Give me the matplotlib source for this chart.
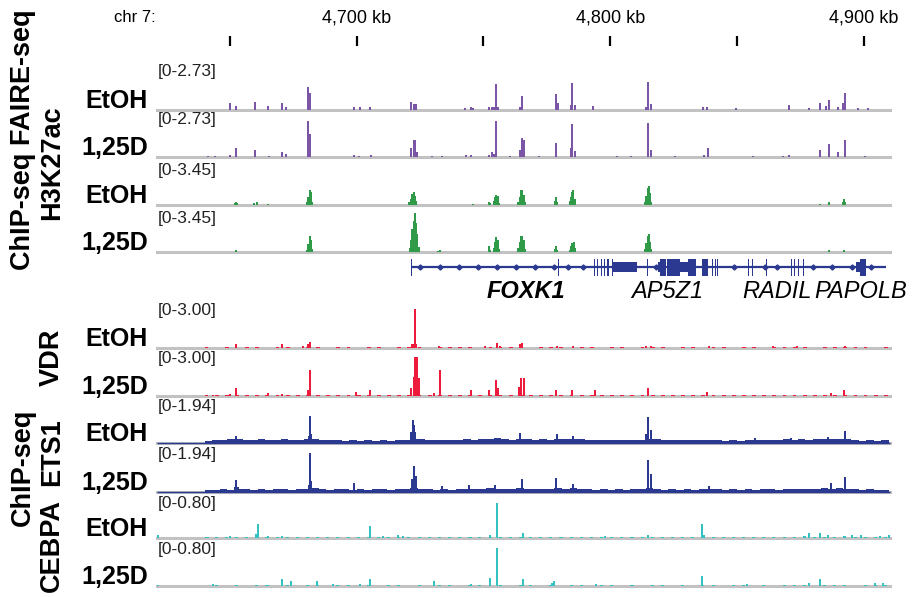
import matplotlib
matplotlib.use("Agg")
import matplotlib.pyplot as plt
import numpy as np

plt.rcParams['font.family'] = ['Liberation Sans', 'DejaVu Sans']

# ---- data (positions in kb on chr7, signal values) ----
ruler_ticks = [4650, 4700, 4750, 4800, 4850, 4900]
ruler_labels = {4700: "4,700 kb", 4800: "4,800 kb", 4900: "4,900 kb"}

faire_etoh = [(4650.0, 0.44), (4652.5, 0.25), (4660.0, 0.49), (4665.0, 0.25), (4670.7, 0.44),
              (4672.1, 0.19), (4680.7, 1.34), (4681.7, 1.01), (4698.9, 0.16), (4701.2, 0.16),
              (4705.1, 0.19), (4721.6, 0.49), (4722.4, 0.33), (4723.3, 0.33), (4742.7, 0.11),
              (4745.0, 0.16), (4746.0, 0.11), (4752.1, 0.16), (4753.3, 0.16), (4754.2, 0.19),
              (4755.0, 1.53), (4755.8, 0.19), (4764.6, 0.19), (4765.4, 0.82), (4778.6, 0.93),
              (4779.6, 0.44), (4784.6, 0.30), (4785.1, 1.58), (4786.3, 0.30), (4793.4, 0.25),
              (4814.1, 0.19), (4815.1, 1.69), (4816.1, 0.35), (4836.6, 0.19), (4838.1, 0.19),
              (4849.5, 0.14), (4870.4, 0.27), (4878.5, 0.14), (4882.9, 0.44), (4885.2, 0.25),
              (4886.5, 0.57), (4890.0, 0.19), (4891.7, 0.41), (4892.5, 0.98), (4897.7, 0.14),
              (4901.9, 0.14)]

faire_125d = [(4641.3, 0.05), (4644.2, 0.05), (4650.0, 0.14), (4652.3, 0.55), (4660.0, 0.41),
              (4665.3, 0.08), (4670.7, 0.30), (4672.1, 0.19), (4680.7, 2.16), (4681.7, 1.37),
              (4698.9, 0.11), (4700.9, 0.08), (4705.7, 0.11), (4721.6, 0.55), (4722.4, 1.01),
              (4723.1, 1.01), (4723.9, 0.30), (4729.7, 0.05), (4733.5, 0.05), (4743.1, 0.14),
              (4745.0, 0.14), (4752.1, 0.14), (4753.3, 0.30), (4754.2, 0.19), (4755.0, 2.21),
              (4760.4, 0.05), (4764.6, 0.41), (4765.4, 1.17), (4766.1, 1.01), (4772.0, 0.05),
              (4778.6, 0.85), (4784.6, 0.57), (4785.1, 1.99), (4786.3, 0.35), (4802.6, 0.05),
              (4808.4, 0.05), (4815.1, 2.07), (4816.1, 0.41), (4825.7, 0.05), (4837.2, 0.11),
              (4838.5, 0.52), (4856.4, 0.05), (4868.1, 0.05), (4870.4, 0.14), (4882.9, 0.41),
              (4886.5, 0.76), (4890.0, 0.30), (4892.5, 1.06), (4900.5, 0.05)]

h3k27ac_etoh = [(4639.4, 0.03), (4651.8, 0.14), (4652.3, 0.24), (4652.8, 0.14), (4659.6, 0.14),
                (4660.5, 0.21), (4665.0, 0.07),
                (4680.3, 0.21), (4680.9, 0.62), (4681.5, 1.24), (4682.0, 1.04), (4682.5, 0.28),
                (4720.8, 0.21), (4721.4, 0.52), (4722.0, 0.90), (4722.4, 1.04), (4722.9, 0.76),
                (4723.4, 0.35), (4746.0, 0.10), (4752.1, 0.24), (4752.7, 0.14),
                (4754.0, 0.35), (4754.6, 0.69), (4755.1, 0.83), (4755.6, 0.76), (4756.1, 0.17),
                (4763.8, 0.28), (4764.3, 0.69), (4764.8, 1.21), (4765.3, 1.24), (4765.8, 0.86),
                (4766.3, 0.21), (4778.2, 0.35), (4778.7, 0.66), (4779.2, 0.28),
                (4784.0, 0.35), (4784.5, 0.69), (4785.0, 1.04), (4785.5, 1.24), (4786.0, 0.52),
                (4813.8, 0.28), (4814.3, 0.76), (4814.8, 1.38), (4815.2, 1.55), (4815.7, 0.97),
                (4816.2, 0.28), (4882.9, 0.07), (4886.3, 0.24), (4891.8, 0.28), (4892.3, 0.48),
                (4892.8, 0.28)]

h3k27ac_125d = [(4652.3, 0.14),
                (4680.3, 0.21), (4680.9, 0.69), (4681.5, 1.35), (4682.0, 1.04), (4682.5, 0.28),
                (4720.9, 0.35), (4721.4, 1.04), (4721.9, 1.90), (4722.4, 2.59), (4722.9, 3.24),
                (4723.4, 2.42), (4723.9, 1.55), (4724.4, 0.41), (4732.0, 0.07), (4732.9, 0.14),
                (4752.1, 0.48), (4752.6, 0.17),
                (4754.0, 0.35), (4754.6, 0.86), (4755.1, 1.24), (4755.6, 1.04), (4756.1, 0.28),
                (4763.8, 0.35), (4764.3, 0.86), (4764.8, 1.31), (4765.3, 1.35), (4765.8, 1.04),
                (4766.3, 0.28), (4778.2, 0.28), (4778.7, 0.48), (4779.2, 0.17),
                (4784.0, 0.21), (4784.6, 0.48), (4785.1, 0.76), (4785.6, 0.86), (4786.1, 0.35),
                (4813.8, 0.28), (4814.3, 0.76), (4814.8, 1.31), (4815.2, 1.52), (4815.7, 0.86),
                (4816.2, 0.28), (4886.3, 0.14), (4892.3, 0.14)]

vdr_etoh = [(4652.5, 0.24), (4660.2, 0.09), (4670.7, 0.27), (4678.8, 0.12), (4680.7, 0.24),
            (4681.7, 0.39), (4722.0, 0.24), (4722.5, 0.30), (4723.0, 2.61), (4723.5, 0.30),
            (4732.5, 0.12), (4750.8, 0.15), (4755.2, 0.36), (4756.5, 0.12), (4764.6, 0.24),
            (4765.4, 0.36), (4779.2, 0.15), (4785.3, 0.15), (4814.1, 0.12), (4816.1, 0.15),
            (4839.1, 0.12), (4864.1, 0.15), (4873.7, 0.12), (4892.5, 0.12)]

vdr_125d = [(4643.3, 0.09), (4650.0, 0.12), (4652.5, 0.51), (4665.0, 0.18), (4670.7, 0.15),
            (4680.7, 0.42), (4681.7, 1.71), (4699.9, 0.27), (4705.3, 0.42), (4721.6, 0.51),
            (4722.4, 1.26), (4723.0, 2.58), (4723.7, 2.58), (4724.5, 1.20), (4730.6, 0.18),
            (4732.7, 1.71), (4745.0, 0.42), (4752.3, 0.42), (4755.0, 1.05), (4755.8, 0.51),
            (4764.2, 0.63), (4765.0, 1.23), (4765.8, 1.23), (4778.6, 0.42), (4784.9, 0.42),
            (4794.2, 0.42), (4815.1, 0.51), (4838.1, 0.24), (4887.1, 0.18), (4892.3, 0.42)]

ets1_etoh = [(4652.5, 0.31), (4681.0, 0.29), (4681.5, 1.20), (4682.0, 0.39), (4721.4, 0.49),
             (4722.2, 1.01), (4722.7, 0.78), (4723.1, 0.49), (4764.6, 0.43), (4779.2, 0.39),
             (4785.3, 0.31), (4814.3, 0.39), (4815.1, 1.13), (4816.1, 0.58), (4857.3, 0.23),
             (4871.4, 0.23), (4886.1, 0.27), (4892.5, 0.52)]

ets1_125d = [(4652.0, 0.23), (4652.5, 0.52), (4653.1, 0.23), (4681.0, 0.29), (4681.5, 1.67),
             (4682.0, 0.49), (4698.9, 0.39), (4721.8, 0.58), (4722.6, 1.14), (4723.3, 0.68),
             (4733.5, 0.27), (4744.1, 0.29), (4754.6, 0.29), (4765.2, 0.58), (4778.8, 0.62),
             (4785.3, 0.33), (4815.1, 1.36), (4816.1, 0.78), (4839.1, 0.25), (4887.1, 0.39),
             (4892.5, 0.66)]

cebpa_etoh = [(4621.6, 0.06), (4641.3, 0.02), (4650.0, 0.03), (4660.2, 0.08), (4660.9, 0.27),
              (4665.0, 0.04), (4670.7, 0.03), (4705.1, 0.23), (4710.5, 0.04), (4716.2, 0.05),
              (4718.1, 0.03), (4745.0, 0.02), (4752.7, 0.06), (4755.2, 0.66), (4765.6, 0.10),
              (4797.8, 0.04), (4815.1, 0.05), (4836.4, 0.26), (4837.2, 0.05), (4878.5, 0.10),
              (4882.9, 0.10), (4886.1, 0.06), (4895.4, 0.06), (4899.0, 0.06), (4906.3, 0.04),
              (4910.0, 0.06)]

cebpa_125d = [(4621.6, 0.02), (4643.3, 0.03), (4670.7, 0.12), (4674.0, 0.09), (4684.5, 0.09),
              (4690.7, 0.04), (4701.4, 0.04), (4705.1, 0.12), (4730.6, 0.09), (4745.0, 0.04),
              (4752.7, 0.14), (4755.2, 0.70), (4765.6, 0.12), (4776.9, 0.05), (4778.0, 0.10),
              (4794.4, 0.03), (4836.4, 0.19), (4854.1, 0.04), (4878.5, 0.05), (4882.9, 0.12),
              (4904.4, 0.05), (4907.5, 0.06)]

# low background signal, read in 3 kb (ETS1) / 4 kb (VDR, CEBPA) bins from 4640 kb
ets1_etoh_bg = [0.10, 0.14, 0.12, 0.16, 0.17, 0.12, 0.14, 0.16, 0.12, 0.14,
                0.16, 0.12, 0.14, 0.17, 0.19, 0.14, 0.12, 0.14, 0.10, 0.12,
                0.10, 0.12, 0.10, 0.12, 0.10, 0.12, 0.14, 0.19, 0.17, 0.14,
                0.12, 0.14, 0.12, 0.14, 0.16, 0.14, 0.17, 0.19, 0.21, 0.16,
                0.14, 0.19, 0.17, 0.14, 0.16, 0.14, 0.19, 0.17, 0.19, 0.16,
                0.14, 0.12, 0.14, 0.12, 0.14, 0.12, 0.12, 0.14, 0.19, 0.16,
                0.12, 0.14, 0.12, 0.12, 0.14, 0.12, 0.14, 0.12, 0.10, 0.12,
                0.10, 0.12, 0.14, 0.12, 0.14, 0.12, 0.16, 0.14, 0.16, 0.14,
                0.16, 0.17, 0.16, 0.17, 0.16, 0.12, 0.10, 0.12, 0.10, 0.12]
ets1_125d_bg = [0.08, 0.10, 0.12, 0.10, 0.14, 0.12, 0.10, 0.12, 0.10, 0.12,
                0.14, 0.10, 0.12, 0.14, 0.16, 0.12, 0.10, 0.12, 0.14, 0.10,
                0.12, 0.10, 0.12, 0.14, 0.10, 0.12, 0.12, 0.16, 0.14, 0.12,
                0.10, 0.12, 0.10, 0.12, 0.14, 0.12, 0.14, 0.16, 0.14, 0.12,
                0.14, 0.16, 0.14, 0.12, 0.14, 0.12, 0.17, 0.14, 0.16, 0.12,
                0.12, 0.10, 0.12, 0.10, 0.12, 0.10, 0.12, 0.12, 0.16, 0.14,
                0.10, 0.12, 0.10, 0.12, 0.10, 0.12, 0.14, 0.12, 0.10, 0.12,
                0.10, 0.12, 0.10, 0.12, 0.14, 0.10, 0.12, 0.14, 0.12, 0.12,
                0.14, 0.16, 0.14, 0.17, 0.14, 0.12, 0.10, 0.12, 0.10, 0.10]
vdr_etoh_bg = [0.04, 0.03, 0.05, 0.03, 0.04, 0.06, 0.03, 0.05, 0.04, 0.03,
               0.05, 0.04, 0.03, 0.04, 0.05, 0.03, 0.04, 0.06, 0.03, 0.05,
               0.04, 0.05, 0.03, 0.04, 0.06, 0.05, 0.04, 0.03, 0.05, 0.04,
               0.06, 0.05, 0.03, 0.04, 0.05, 0.04, 0.03, 0.05, 0.04, 0.03,
               0.04, 0.05, 0.03, 0.04, 0.06, 0.04, 0.03, 0.05, 0.04, 0.03,
               0.04, 0.05, 0.03, 0.04, 0.05, 0.03, 0.04, 0.05, 0.06, 0.04,
               0.03, 0.05, 0.04, 0.06, 0.05, 0.04, 0.03, 0.04]
vdr_125d_bg = [0.05, 0.04, 0.06, 0.05, 0.04, 0.06, 0.05, 0.04, 0.06, 0.04,
               0.05, 0.06, 0.04, 0.05, 0.06, 0.04, 0.05, 0.07, 0.04, 0.06,
               0.05, 0.06, 0.04, 0.05, 0.07, 0.06, 0.05, 0.04, 0.06, 0.05,
               0.07, 0.06, 0.04, 0.05, 0.06, 0.05, 0.04, 0.06, 0.05, 0.04,
               0.05, 0.06, 0.04, 0.05, 0.07, 0.05, 0.04, 0.06, 0.05, 0.04,
               0.05, 0.06, 0.04, 0.05, 0.06, 0.04, 0.05, 0.06, 0.07, 0.05,
               0.04, 0.06, 0.05, 0.07, 0.06, 0.05, 0.04, 0.05]
cebpa_etoh_bg = [0.01, 0.02, 0.01, 0.02, 0.02, 0.01, 0.02, 0.01, 0.02, 0.01,
                 0.02, 0.02, 0.01, 0.02, 0.02, 0.01, 0.02, 0.01, 0.02, 0.02,
                 0.01, 0.02, 0.01, 0.02, 0.02, 0.01, 0.02, 0.02, 0.01, 0.02,
                 0.01, 0.02, 0.02, 0.01, 0.02, 0.01, 0.02, 0.02, 0.01, 0.02,
                 0.02, 0.01, 0.02, 0.01, 0.02, 0.02, 0.01, 0.02, 0.01, 0.02,
                 0.02, 0.01, 0.02, 0.02, 0.01, 0.02, 0.01, 0.02, 0.02, 0.03,
                 0.02, 0.01, 0.02, 0.03, 0.02, 0.01, 0.02, 0.02]
cebpa_125d_bg = [0.00, 0.01, 0.00, 0.02, 0.00, 0.01, 0.02, 0.00, 0.01, 0.00,
                 0.02, 0.01, 0.00, 0.01, 0.02, 0.00, 0.01, 0.00, 0.01, 0.02,
                 0.00, 0.01, 0.00, 0.01, 0.02, 0.00, 0.01, 0.01, 0.00, 0.02,
                 0.00, 0.01, 0.02, 0.00, 0.01, 0.00, 0.02, 0.01, 0.00, 0.01,
                 0.02, 0.00, 0.01, 0.00, 0.01, 0.02, 0.00, 0.01, 0.00, 0.01,
                 0.02, 0.00, 0.01, 0.02, 0.00, 0.01, 0.00, 0.01, 0.02, 0.01,
                 0.00, 0.02, 0.01, 0.02, 0.00, 0.01, 0.02, 0.01]

# gene models (kb)
gene_span = (4721.7, 4909.0)
coding_exons = [(4721.5, 4722.0), (4779.5, 4780.0),
                (4793.5, 4794.0), (4794.8, 4795.3), (4796.2, 4796.7), (4797.5, 4798.0),
                (4798.9, 4799.4), (4800.8, 4801.3),
                (4814.6, 4815.0), (4819.8, 4822.0), (4822.6, 4827.6), (4830.8, 4833.7),
                (4836.4, 4838.6), (4840.2, 4840.6), (4841.2, 4841.6), (4842.3, 4842.7),
                (4854.4, 4854.8), (4855.8, 4856.3), (4861.6, 4862.0),
                (4871.2, 4871.6), (4872.6, 4873.0), (4874.2, 4874.6), (4875.9, 4876.4),
                (4898.4, 4901.0)]
utr_exons = [(4801.3, 4810.6), (4818.8, 4819.8), (4827.6, 4830.8), (4897.0, 4898.4)]
strand_marks = [4725.1, 4732.8, 4740.4, 4748.0, 4755.5, 4762.9, 4770.4, 4778.0, 4783.3,
                4789.1, 4818.1, 4849.0, 4861.0, 4865.7, 4880.0, 4887.7, 4895.4, 4903.0]
gene_names = ["FOXK1", "AP5Z1", "RADIL", "PAPOLB"]
gene_label_pos = [4766.7, 4822.5, 4865.7, 4898.8]

# ---- layout ----
W, H = 914, 597
X0, X1 = 4621.0, 4910.2
TL, TR = 156.5, 889.5

fig = plt.figure(figsize=(W / 100, H / 100), dpi=100)


def px_axes(left, top, right, bottom):
    ax = fig.add_axes([left / W, 1 - bottom / H, (right - left) / W, (bottom - top) / H])
    ax.set_xlim(X0, X1)
    ax.axis('off')
    return ax


def track(top, base, peaks, vmax, color, sample, bg=None, step=3.0, bg_w=3.0):
    ax = px_axes(TL, top, TR, base)
    ax.set_ylim(0, vmax)
    ax.axhline(0, color='#c2c2c2', lw=2.2, clip_on=False, zorder=0)
    if bg is not None:
        bx = 4640 + step * np.arange(len(bg))
        ax.bar(bx, bg, width=bg_w, align='edge', color=color, lw=0, zorder=2)
    pos = [p for p, v in peaks]
    val = [v for p, v in peaks]
    ax.vlines(pos, 0, val, color=color, lw=1.3, zorder=3, antialiased=False)
    ax.text(0.002, 0.99, "[0-%.2f]" % vmax, transform=ax.transAxes,
            ha='left', va='top', fontsize=12.5, color='#222222')
    fig.text(148 / W, 1 - (base - 2) / H, sample, ha='right', va='baseline',
             fontsize=18, fontweight='bold')
    return ax


purple, green, red, navy, teal = '#7b55a6', '#2f9a48', '#ee1c3c', '#2b3990', '#33c1c1'

track(64, 110, faire_etoh, 2.73, purple, "EtOH")
track(112, 157, faire_125d, 2.73, purple, "1,25D")
track(163, 205, h3k27ac_etoh, 3.45, green, "EtOH")
track(211, 252, h3k27ac_125d, 3.45, green, "1,25D")
track(303, 348, vdr_etoh, 3.00, red, "EtOH", vdr_etoh_bg, 4.0, 1.5)
track(351, 396, vdr_125d, 3.00, red, "1,25D", vdr_125d_bg, 4.0, 1.5)
e1 = track(399, 443, ets1_etoh, 1.94, navy, "EtOH", ets1_etoh_bg, 3.0, 3.0)
e2 = track(447, 492, ets1_125d, 1.94, navy, "1,25D", ets1_125d_bg, 3.0, 3.0)
for ax in (e1, e2):
    ax.hlines(0, X0, X1, color=navy, lw=1.0, zorder=1, clip_on=False)
track(496, 538, cebpa_etoh, 0.80, teal, "EtOH", cebpa_etoh_bg, 4.0, 1.2)
track(542, 586, cebpa_125d, 0.80, teal, "1,25D", cebpa_125d_bg, 4.0, 1.2)

# ruler
rax = px_axes(TL, 0, TR, 50)
rax.set_ylim(50, 0)
rax.vlines(ruler_ticks, 36, 46, color='black', lw=1.6)
for t, lab in ruler_labels.items():
    rax.text(t, 18, lab, ha='center', va='center', fontsize=13)
fig.text(156 / W, 1 - 18 / H, "chr 7:", ha='right', va='center', fontsize=12)

# gene track
gax = px_axes(TL, 257, TR, 277)
gax.set_ylim(-10, 10)
gax.hlines(0, gene_span[0], gene_span[1], color=navy, lw=1.6)
for s, e in coding_exons:
    gax.bar(s, 17, width=e - s, bottom=-8.5, align='edge', color=navy, lw=0)
for s, e in utr_exons:
    gax.bar(s, 10, width=e - s, bottom=-5, align='edge', color=navy, lw=0)
gax.plot(strand_marks, [0] * len(strand_marks), ls='none', marker='D', ms=2.6, color=navy)
for name, x in zip(gene_names, gene_label_pos):
    gax.text(x, -25, name, ha='center', va='center', fontsize=17, style='italic',
             fontweight='bold' if name == "FOXK1" else 'normal')

# group labels on the left
side = dict(rotation=90, ha='center', va='center', fontsize=19.5, fontweight='bold')
fig.text(23 / W, 1 - 140 / H, "ChIP-seq FAIRE-seq", **side)
fig.text(52 / W, 1 - 163 / H, "H3K27ac", **side)
fig.text(23 / W, 1 - 467 / H, "ChIP-seq", **side)
fig.text(52 / W, 1 - 357 / H, "VDR", **side)
fig.text(52 / W, 1 - 452 / H, "ETS1", **side)
fig.text(52 / W, 1 - 546 / H, "CEBPA", **side)

fig.savefig("out.png", dpi=100)
